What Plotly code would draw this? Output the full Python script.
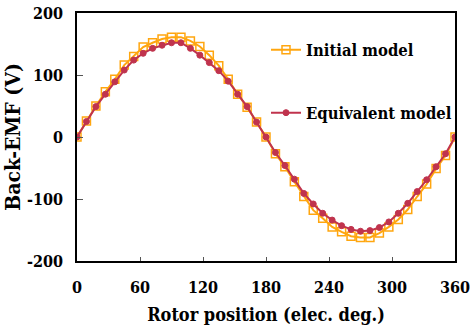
import plotly.graph_objects as go

angle = list(range(0, 361, 9))
initial = [0, 26, 50, 73, 93, 116, 130, 145, 152, 158, 161, 161, 155, 146, 132, 115, 93, 69, 48, 24,
           0, -27, -48, -72, -96, -118, -131, -145, -153, -160, -162, -162, -155, -145, -133, -117, -96, -76, -51, -30, 0]
equivalent = [0, 25, 49, 69, 89, 108, 124, 135, 143, 148, 152, 152, 143, 132, 120, 107, 90, 69, 49, 24,
              0, -25, -46, -68, -91, -108, -123, -134, -143, -149, -152, -151, -146, -137, -123, -107, -88, -69, -48, -27, 0]
x_ticks = [0, 60, 120, 180, 240, 300, 360]
y_ticks = [-200, -100, 0, 100, 200]

ORANGE = "#FFA60F"
RED = "#C0334D"
FONT_C = "DejaVu Serif Condensed"

fig = go.Figure()
fig.add_trace(go.Scatter(
    x=angle, y=initial, name="Initial model", mode="lines+markers",
    line=dict(color=ORANGE, width=2),
    marker=dict(symbol="square-open", size=8, color=ORANGE, line=dict(width=1.5, color=ORANGE)),
    legend="legend",
))
fig.add_trace(go.Scatter(
    x=angle, y=equivalent, name="Equivalent model", mode="lines+markers",
    line=dict(color=RED, width=2),
    marker=dict(symbol="circle", size=6, color=RED, line=dict(width=1, color=RED)),
    legend="legend2",
))

legend_common = dict(
    xanchor="left", yanchor="middle", bgcolor="rgba(0,0,0,0)",
    font=dict(family=FONT_C, size=16.5, color="black", weight="bold"),
)
fig.update_layout(
    width=471, height=325,
    margin=dict(l=77, r=16, t=13, b=64, autoexpand=False),
    paper_bgcolor="white", plot_bgcolor="white",
    showlegend=True,
    legend=dict(x=0.5, y=0.851, **legend_common),
    legend2=dict(x=0.5, y=0.597, **legend_common),
)
fig.update_xaxes(
    range=[0, 360], tickvals=x_ticks, ticktext=[str(v) for v in x_ticks],
    showgrid=False, zeroline=False, automargin=False,
    showline=True, mirror=True, linecolor="black", linewidth=1.5,
    ticks="inside", ticklen=4, tickcolor="#555", tickwidth=1,
    tickfont=dict(family=FONT_C, size=16, color="black", weight="bold"),
    ticklabelstandoff=11,
    title=dict(text="Rotor position (elec. deg.)", standoff=12,
               font=dict(family=FONT_C, size=18, color="black", weight="bold")),
)
fig.update_yaxes(
    range=[-200, 200], tickvals=y_ticks, ticktext=[str(v) for v in y_ticks],
    showgrid=False, zeroline=False, automargin=False,
    showline=True, mirror=True, linecolor="black", linewidth=1.5,
    ticks="inside", ticklen=6, tickcolor="#555", tickwidth=1,
    tickfont=dict(family=FONT_C, size=16, color="black", weight="bold"),
    ticklabelstandoff=9,
    title=dict(text="Back-EMF (V)", standoff=6,
               font=dict(family=FONT_C, size=21, color="black", weight="bold")),
)

fig.write_html("out.html")
